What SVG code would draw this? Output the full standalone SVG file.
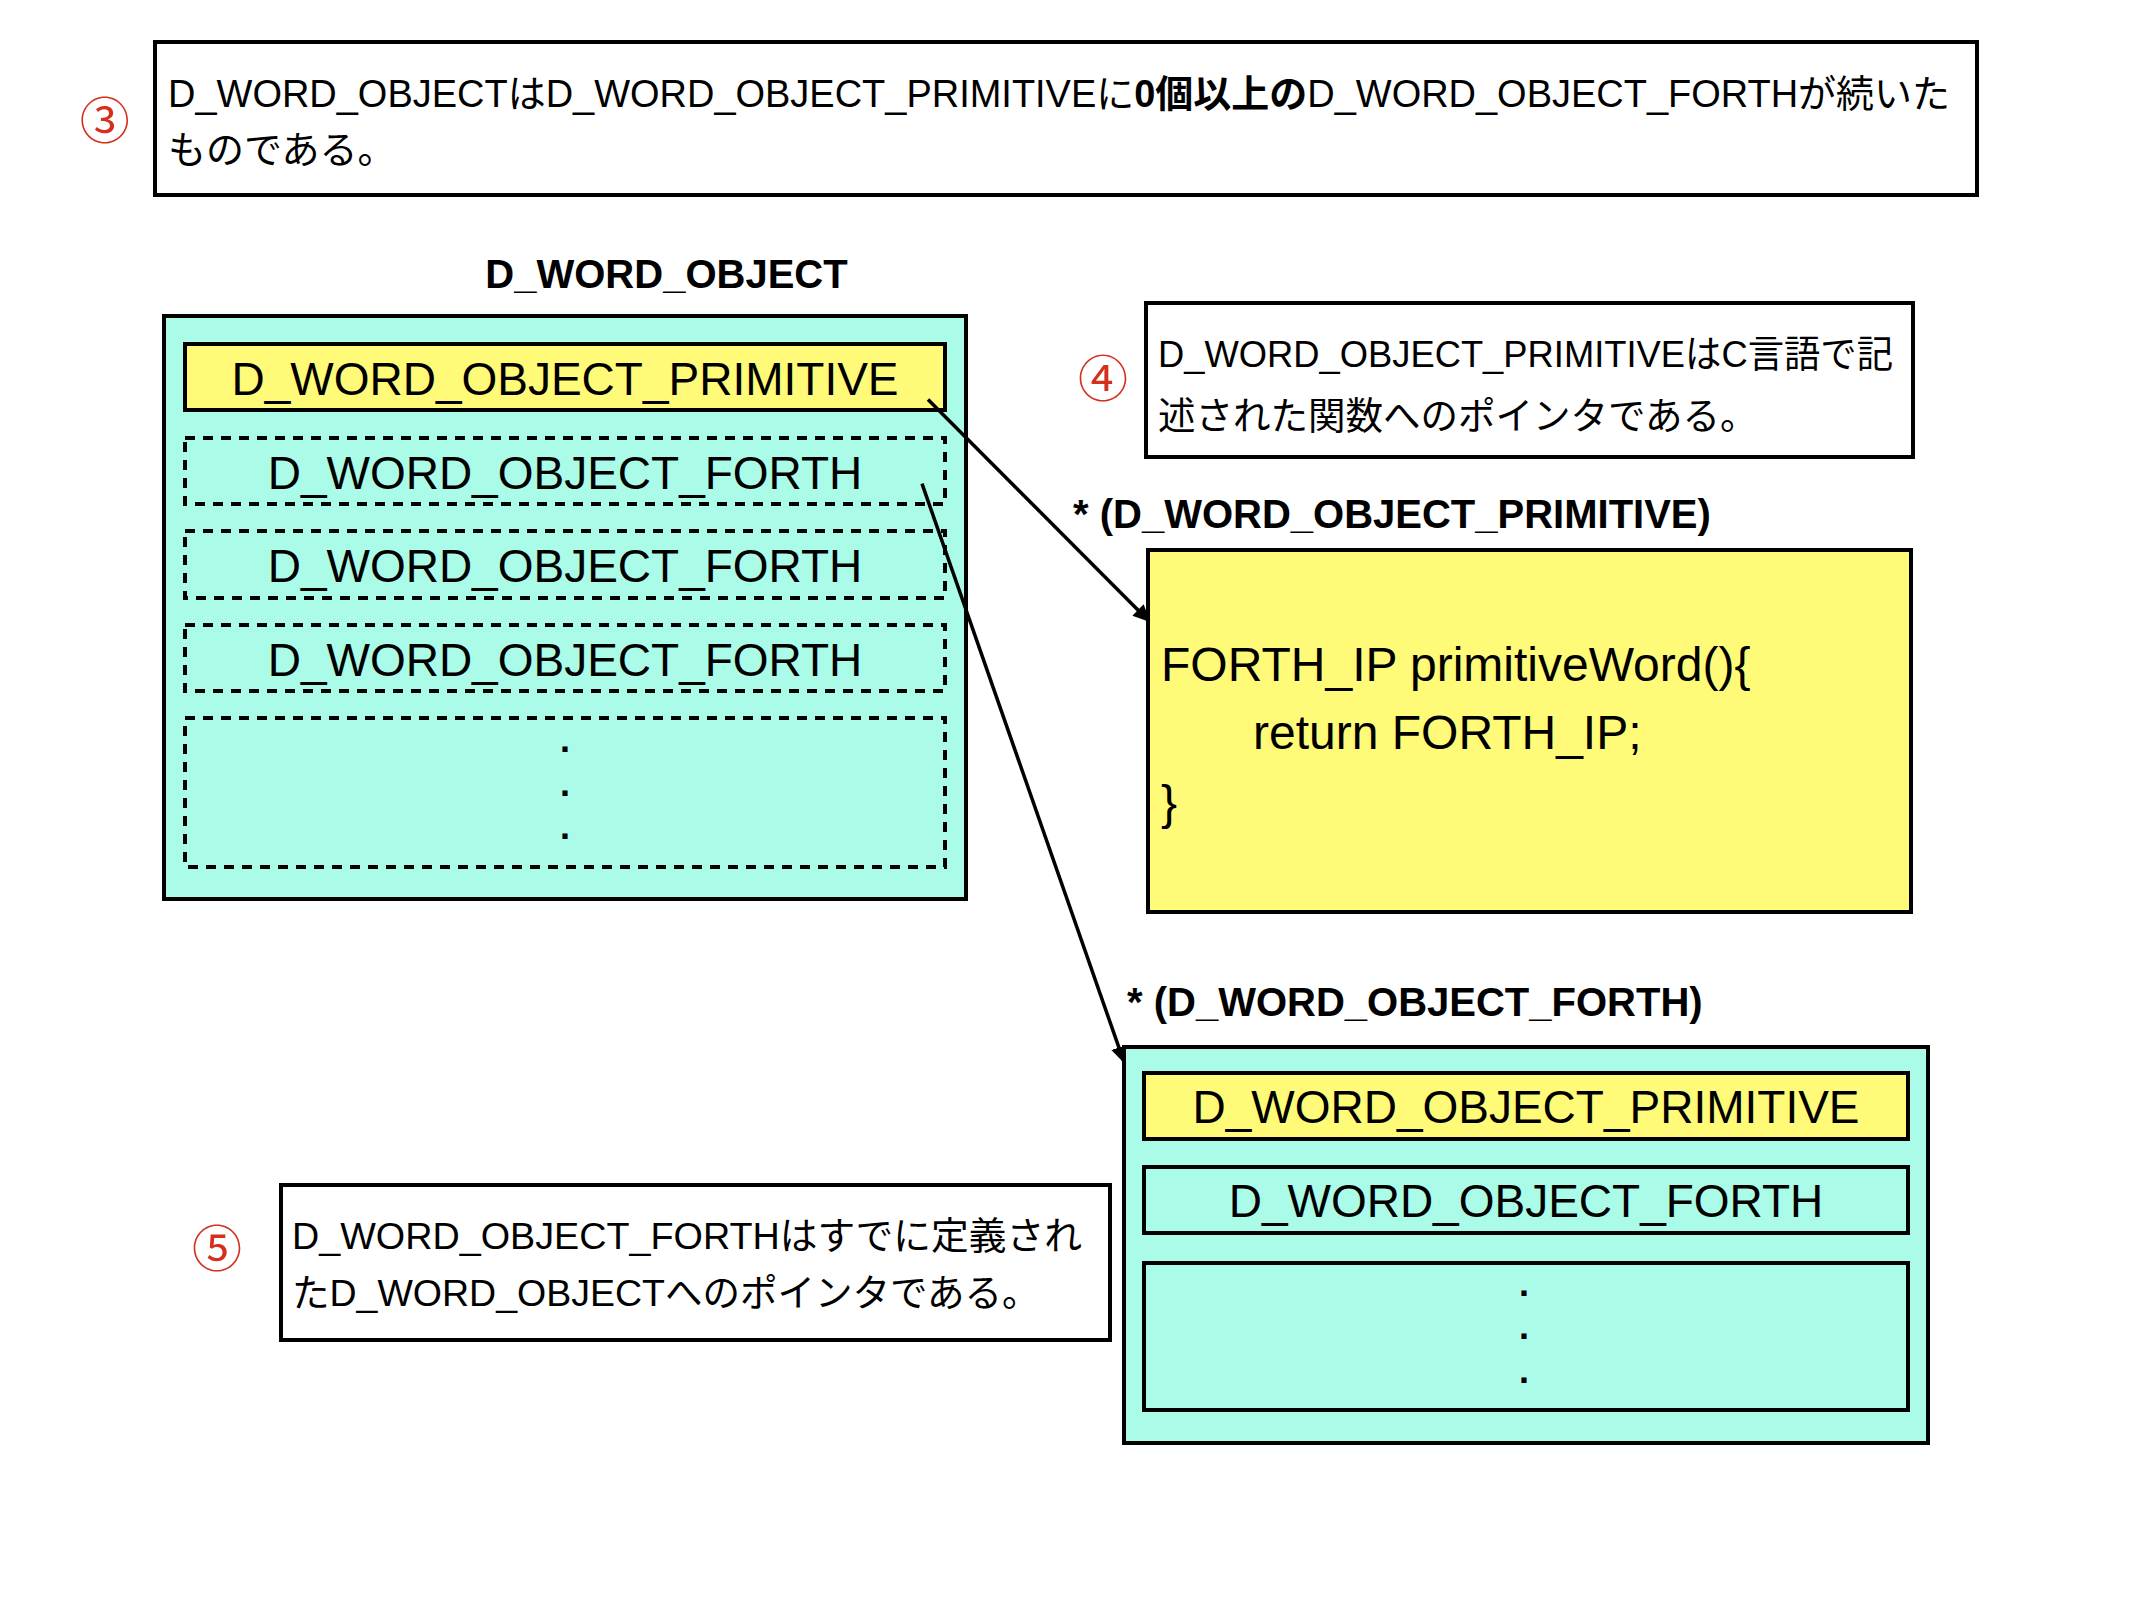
<svg xmlns="http://www.w3.org/2000/svg" width="2133" height="1600" viewBox="0 0 2133 1600">
<defs>
<style>
text { font-family: "Liberation Sans", "Noto Sans CJK JP", sans-serif; fill: #000; }
.note { fill: #fff; stroke: #000; stroke-width: 4; }
.outer { fill: #aafce8; stroke: #000; stroke-width: 4; }
.prim { fill: #fffb78; stroke: #000; stroke-width: 4; }
.forth { fill: #aafce8; stroke: #000; stroke-width: 4; }
.dash { fill: none; stroke: #000; stroke-width: 4; stroke-dasharray: 10 8; }
.num { font-family: "Noto Sans CJK JP", sans-serif; fill: #d4301c; font-size: 50px; text-anchor: middle; dominant-baseline: central; }
.jp { font-size: 37.5px; }
.lbl { font-size: 40px; font-weight: bold; }
.cell { font-size: 46px; text-anchor: middle; }
.dots { font-size: 36px; font-weight: bold; text-anchor: middle; }
.code { font-size: 48px; }
.conn { stroke: #000; stroke-width: 3.5; fill: none; }
</style>
<marker id="arr" markerUnits="userSpaceOnUse" markerWidth="18" markerHeight="18" viewBox="0 0 18 18" refX="14" refY="9" orient="auto">
<path d="M0,1 L17,9 L0,17 Z" fill="#000"/>
</marker>
</defs>
<rect width="2133" height="1600" fill="#fff"/>

<g id="note3">
<text class="num" x="104.7" y="116.7">③</text>
<rect class="note" x="155" y="42" width="1822" height="153"/>
<text class="jp" x="168" y="107" style="font-size:38px" textLength="1782" lengthAdjust="spacingAndGlyphs">D_WORD_OBJECTはD_WORD_OBJECT_PRIMITIVEに<tspan font-weight="bold">0個以上の</tspan>D_WORD_OBJECT_FORTHが続いた</text>
<text class="jp" x="168" y="163" style="font-size:38px">ものである。</text>
</g>

<g id="d_word_object">
<text class="lbl" x="666.5" y="288" text-anchor="middle">D_WORD_OBJECT</text>
<rect class="outer" x="164" y="316" width="802" height="583"/>
<g id="dwo_primitive">
<rect class="prim" x="185" y="344" width="760" height="66"/>
<text class="cell" x="565" y="395">D_WORD_OBJECT_PRIMITIVE</text>
</g>
<g id="dwo_forth1">
<rect class="dash" x="185" y="438" width="760" height="66"/>
<text class="cell" x="565" y="489">D_WORD_OBJECT_FORTH</text>
</g>
<g id="dwo_forth2">
<rect class="dash" x="185" y="531" width="760" height="67"/>
<text class="cell" x="565" y="582">D_WORD_OBJECT_FORTH</text>
</g>
<g id="dwo_forth3">
<rect class="dash" x="185" y="625" width="760" height="66"/>
<text class="cell" x="565" y="676">D_WORD_OBJECT_FORTH</text>
</g>
<g id="dwo_more">
<rect class="dash" x="185" y="718" width="760" height="149"/>
<text class="dots" x="565" y="751.5">.<tspan x="565" y="795.5">.</tspan><tspan x="565" y="839">.</tspan></text>
</g>
</g>

<g id="note4">
<text class="num" x="1103" y="375">④</text>
<rect class="note" x="1146" y="303" width="767" height="154"/>
<text class="jp" x="1158" y="367" textLength="735" lengthAdjust="spacingAndGlyphs">D_WORD_OBJECT_PRIMITIVEはC言語で記</text>
<text class="jp" x="1158" y="428.6">述された関数へのポインタである。</text>
</g>

<g id="primitive_func">
<text class="lbl" x="1073" y="528">* (D_WORD_OBJECT_PRIMITIVE)</text>
<rect class="prim" x="1148" y="550" width="763" height="362"/>
<text class="code" x="1161" y="681">FORTH_IP primitiveWord(){</text>
<text class="code" x="1253" y="749">return FORTH_IP;</text>
<text class="code" x="1161" y="819">}</text>
</g>

<g id="forth_object">
<text class="lbl" x="1127" y="1016">* (D_WORD_OBJECT_FORTH)</text>
<rect class="outer" x="1124" y="1047" width="804" height="396"/>
<g id="fo_primitive">
<rect class="prim" x="1144" y="1073" width="764" height="66"/>
<text class="cell" x="1526" y="1123">D_WORD_OBJECT_PRIMITIVE</text>
</g>
<g id="fo_forth">
<rect class="forth" x="1144" y="1167" width="764" height="66"/>
<text class="cell" x="1526" y="1217">D_WORD_OBJECT_FORTH</text>
</g>
<g id="fo_more">
<rect class="forth" x="1144" y="1263" width="764" height="147"/>
<text class="dots" x="1524" y="1295.5">.<tspan x="1524" y="1338.5">.</tspan><tspan x="1524" y="1382.5">.</tspan></text>
</g>
</g>

<g id="note5">
<text class="num" x="217" y="1245">⑤</text>
<rect class="note" x="281" y="1185" width="829" height="155"/>
<text class="jp" x="292" y="1248.5" textLength="790" lengthAdjust="spacingAndGlyphs">D_WORD_OBJECT_FORTHはすでに定義され</text>
<text class="jp" x="292" y="1305.7">たD_WORD_OBJECTへのポインタである。</text>
</g>

<g id="connectors">
<path class="conn" d="M928,399.5 L1147.9,619.9" marker-end="url(#arr)"/>
<path class="conn" d="M922,483.7 L1123.5,1060.7" marker-end="url(#arr)"/>
</g>
</svg>
